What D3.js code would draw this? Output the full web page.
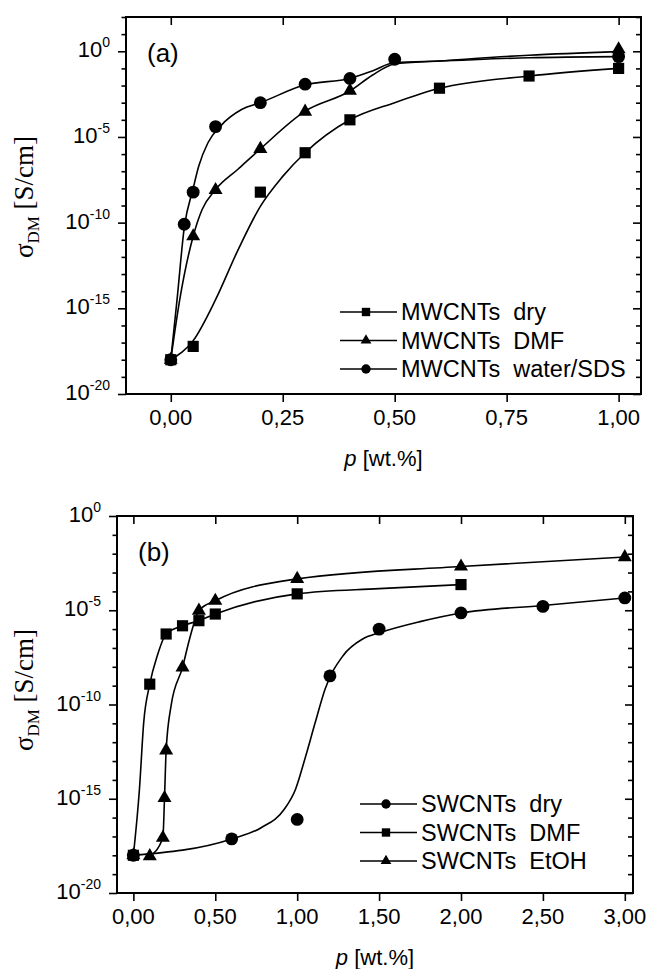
<!DOCTYPE html>
<html>
<head>
<meta charset="utf-8">
<script src="https://cdn.jsdelivr.net/npm/d3@7"></script>
<style>
  body { margin: 0; background: #fff; }
  svg { display: block; }
</style>
</head>
<body>
<div id="container"></div>
<script>
// ---- panel (a): MWCNTs, measured points ----
const mwDryP = [0, 0.05, 0.2, 0.3, 0.4, 0.6, 0.8, 1.0];
const mwDryS = [1e-18, 6e-18, 6e-9, 1.2e-6, 1e-4, 7e-3, 3.6e-2, 0.1];
const mwDmfP = [0, 0.05, 0.1, 0.2, 0.3, 0.4, 1.0];
const mwDmfS = [1e-18, 1.6e-11, 8e-9, 2e-6, 3e-4, 5e-3, 1.3];
const mwSdsP = [0, 0.03, 0.05, 0.1, 0.2, 0.3, 0.4, 0.5, 1.0];
const mwSdsS = [1e-18, 8e-11, 6e-9, 4e-5, 1e-3, 1.2e-2, 2.6e-2, 0.34, 0.49];

// fitted curves of panel (a)
const mwDryFitP = [0, 0.05, 0.1, 0.15, 0.2, 0.25, 0.3, 0.4, 0.5, 0.6, 0.8, 1.0];
const mwDryFitS = [1e-18, 1.3e-17, 3.2e-15, 2.5e-12, 8.9e-10, 5e-8, 1.2e-6, 1e-4, 1e-3, 6.9e-3, 3.6e-2, 0.1];
const mwDmfFitP = [0, 0.02, 0.05, 0.07, 0.1, 0.15, 0.2, 0.3, 0.4, 0.45, 0.5, 0.6, 0.8, 1.0];
const mwDmfFitS = [1e-18, 3.2e-15, 1.6e-11, 5.8e-10, 8.5e-9, 1.3e-7, 2e-6, 3.2e-4, 4.8e-3, 4e-2, 0.18, 0.27, 0.59, 0.95];
const mwSdsFitP = [0, 0.014, 0.03, 0.05, 0.0625, 0.083, 0.111, 0.159, 0.2, 0.3, 0.4, 0.45, 0.5, 0.6, 0.8, 1.0];
const mwSdsFitS = [1e-18, 3.2e-15, 5e-11, 1e-8, 2e-7, 4.6e-6, 4.3e-5, 4.1e-4, 1e-3, 1.1e-2, 2.6e-2, 7.1e-2, 0.22, 0.27, 0.42, 0.49];

// ---- panel (b): SWCNTs, measured points ----
const swDryP = [0, 0.6, 1.0, 1.2, 1.5, 2.0, 2.5, 3.0];
const swDryS = [1e-18, 7.4e-18, 8e-17, 3.3e-9, 1e-6, 7.2e-6, 1.6e-5, 4.5e-5];
const swDmfP = [0, 0.1, 0.2, 0.3, 0.4, 0.5, 1.0, 2.0];
const swDmfS = [1e-18, 1.2e-9, 5.5e-7, 1.5e-6, 2.8e-6, 6.3e-6, 7.4e-5, 2.3e-4];
const swEtohP = [0, 0.1, 0.18, 0.19, 0.2, 0.3, 0.4, 0.5, 1.0, 2.0, 3.0];
const swEtohS = [1e-18, 9e-19, 8.5e-18, 1.1e-15, 3.7e-13, 9.3e-9, 9.5e-6, 3.2e-5, 4.6e-4, 2.1e-3, 6.6e-3];

// fitted curves of panel (b)
const swDryFitP = [0, 0.6, 0.78, 0.92, 0.99, 1.05, 1.11, 1.17, 1.28, 1.4, 1.5, 1.75, 2.0, 2.5, 3.0];
const swDryFitS = [1e-18, 7.4e-18, 2.9e-17, 2.7e-16, 3.2e-15, 1.6e-13, 1.1e-11, 6.5e-10, 3.9e-8, 3e-7, 6.3e-7, 2.5e-6, 7.2e-6, 1.8e-5, 4.5e-5];
const swDmfFitP = [0, 0.037, 0.063, 0.1, 0.146, 0.2, 0.3, 0.4, 0.5, 1.0, 1.5, 2.0];
const swDmfFitS = [1e-18, 3.2e-15, 1.1e-11, 1.2e-9, 3.9e-8, 5.5e-7, 1.5e-6, 2.8e-6, 6.3e-6, 7.4e-5, 1.4e-4, 2.3e-4];
const swEtohFitP = [0.1, 0.18, 0.19, 0.2, 0.23, 0.3, 0.343, 0.4, 0.5, 1.0, 2.0, 3.0];
const swEtohFitS = [9e-19, 8.5e-18, 1.1e-15, 3.7e-13, 8.5e-11, 9.3e-9, 3e-7, 9.5e-6, 3.2e-5, 4.6e-4, 2.1e-3, 6.6e-3];

// axis ticks
const xTicksA = [0, 0.25, 0.5, 0.75, 1.0];
const xLabelsA = ["0,00", "0,25", "0,50", "0,75", "1,00"];
const xTicksB = [0, 0.5, 1.0, 1.5, 2.0, 2.5, 3.0];
const xLabelsB = ["0,00", "0,50", "1,00", "1,50", "2,00", "2,50", "3,00"];
const yExpA = [-20, -15, -10, -5, 0];
const yExpB = [-20, -15, -10, -5, 0];

const zip = (ps, ss) => ps.map((p, i) => ({ p, s: ss[i] }));

const panels = [
  {
    tag: "(a)", left: 126, right: 641, top: 17, bottom: 394,
    xDomain: [-0.1, 1.05], yDomain: [1e-20, 1e2], minExp: -20, maxExp: 2,
    xTicks: xTicksA, xLabels: xLabelsA, yExp: yExpA,
    legendX: 340, legendY: 312, titleY: 197,
    series: [
      { name: "MWCNTs  dry", sym: d3.symbolSquare, pts: zip(mwDryP, mwDryS), fit: zip(mwDryFitP, mwDryFitS) },
      { name: "MWCNTs  DMF", sym: d3.symbolTriangle, pts: zip(mwDmfP, mwDmfS), fit: zip(mwDmfFitP, mwDmfFitS) },
      { name: "MWCNTs  water/SDS", sym: d3.symbolCircle, pts: zip(mwSdsP, mwSdsS), fit: zip(mwSdsFitP, mwSdsFitS) }
    ]
  },
  {
    tag: "(b)", left: 117, right: 633, top: 516, bottom: 893,
    xDomain: [-0.1, 3.05], yDomain: [1e-20, 1], minExp: -20, maxExp: 0,
    xTicks: xTicksB, xLabels: xLabelsB, yExp: yExpB,
    legendX: 360, legendY: 804, titleY: 690,
    series: [
      { name: "SWCNTs  dry", sym: d3.symbolCircle, pts: zip(swDryP, swDryS), fit: zip(swDryFitP, swDryFitS) },
      { name: "SWCNTs  DMF", sym: d3.symbolSquare, pts: zip(swDmfP, swDmfS), fit: zip(swDmfFitP, swDmfFitS) },
      { name: "SWCNTs  EtOH", sym: d3.symbolTriangle, pts: zip(swEtohP, swEtohS), fit: zip(swEtohFitP, swEtohFitS) }
    ]
  }
];

const symSize = s => s === d3.symbolSquare ? 125 : s === d3.symbolCircle ? 130 : 85;

const svg = d3.select("#container")
  .append("svg")
  .attr("width", 652)
  .attr("height", 969)
  .style("font-family", "Arial, 'Liberation Sans', sans-serif");

panels.forEach(cfg => {
  const x = d3.scaleLinear().domain(cfg.xDomain).range([cfg.left, cfg.right]);
  const y = d3.scaleLog().domain(cfg.yDomain).range([cfg.bottom, cfg.top]);
  const g = svg.append("g");
  const decades = d3.range(cfg.minExp, cfg.maxExp + 1).map(e => Math.pow(10, e));
  const isMajor = d => cfg.yExp.includes(Math.round(Math.log10(d)));

  // axes: bottom/left ticks point out, top/right point in
  const styleAxis = sel => {
    sel.select(".domain").remove();
    sel.selectAll(".tick line").attr("stroke", "#000").attr("stroke-width", 1.6);
    sel.selectAll(".tick text").remove();
  };
  g.append("g").attr("transform", `translate(0,${cfg.bottom})`)
    .call(d3.axisBottom(x).tickValues(cfg.xTicks).tickSize(8)).call(styleAxis);
  g.append("g").attr("transform", `translate(0,${cfg.top})`)
    .call(d3.axisTop(x).tickValues(cfg.xTicks).tickSize(-8)).call(styleAxis);
  g.append("g").attr("transform", `translate(${cfg.left},0)`)
    .call(d3.axisLeft(y).tickValues(decades).tickSize(8)).call(styleAxis)
    .call(a => a.selectAll(".tick line").attr("x2", d => isMajor(d) ? -8 : -4.5));
  g.append("g").attr("transform", `translate(${cfg.right},0)`)
    .call(d3.axisRight(y).tickValues(decades).tickSize(-8)).call(styleAxis)
    .call(a => a.selectAll(".tick line").attr("x2", d => isMajor(d) ? -8 : -5));

  // frame
  g.append("rect")
    .attr("x", cfg.left).attr("y", cfg.top)
    .attr("width", cfg.right - cfg.left).attr("height", cfg.bottom - cfg.top)
    .attr("fill", "none").attr("stroke", "#000").attr("stroke-width", 2);

  // x tick labels
  g.selectAll("text.xl").data(cfg.xTicks).enter().append("text")
    .attr("class", "xl")
    .attr("x", d => x(d)).attr("y", cfg.bottom + 31)
    .attr("text-anchor", "middle").attr("font-size", 22)
    .text((d, i) => cfg.xLabels[i]);

  // y tick labels 10^n
  const yl = g.selectAll("text.yl").data(cfg.yExp).enter().append("text")
    .attr("class", "yl")
    .attr("x", cfg.left - 16).attr("y", d => y(Math.pow(10, d)) + 6)
    .attr("text-anchor", "end").attr("font-size", 22);
  yl.append("tspan").text("10");
  yl.append("tspan").attr("dy", -10).attr("font-size", 14).text(d => d === 0 ? "0" : "-" + Math.abs(d));

  // axis titles
  const xt = g.append("text")
    .attr("x", (cfg.left + cfg.right) / 2).attr("y", cfg.bottom + 72)
    .attr("text-anchor", "middle").attr("font-size", 22);
  xt.append("tspan").attr("font-style", "italic").text("p");
  xt.append("tspan").text(" [wt.%]");

  const yt = g.append("text")
    .attr("transform", `translate(33,${cfg.titleY}) rotate(-90)`)
    .attr("text-anchor", "middle")
    .attr("font-family", "'Liberation Serif', 'Times New Roman', serif")
    .attr("font-size", 27);
  yt.append("tspan").text("σ");
  yt.append("tspan").attr("dy", 6).attr("font-size", 17).text("DM");
  yt.append("tspan").attr("dy", -6).text(" [S/cm]");

  // panel tag
  g.append("text")
    .attr("x", cfg.left + 21).attr("y", cfg.top + 45)
    .attr("font-size", 26)
    .text(cfg.tag);

  // fitted lines and markers
  const line = d3.line()
    .x(d => x(d.p)).y(d => y(d.s))
    .curve(d3.curveMonotoneX);

  cfg.series.forEach(sr => {
    g.append("path")
      .datum(sr.fit)
      .attr("d", line)
      .attr("fill", "none").attr("stroke", "#000").attr("stroke-width", 1.6);
  });
  cfg.series.forEach(sr => {
    g.selectAll(null).data(sr.pts).enter().append("path")
      .attr("transform", d => `translate(${x(d.p)},${y(d.s)})`)
      .attr("d", d3.symbol().type(sr.sym).size(symSize(sr.sym)))
      .attr("fill", "#000");
  });

  // legend
  const legend = g.append("g").attr("transform", `translate(${cfg.legendX},${cfg.legendY})`);
  cfg.series.forEach((sr, i) => {
    const row = legend.append("g").attr("transform", `translate(0,${i * 28.5})`);
    row.append("line").attr("x1", 0).attr("x2", 57).attr("y1", 0).attr("y2", 0)
      .attr("stroke", "#000").attr("stroke-width", 1.6);
    row.append("path")
      .attr("transform", "translate(26,0)")
      .attr("d", d3.symbol().type(sr.sym).size(sr.sym === d3.symbolTriangle ? 50 : 70))
      .attr("fill", "#000");
    row.append("text")
      .attr("x", 61).attr("y", 8)
      .attr("font-size", 23.5)
      .style("white-space", "pre")
      .text(sr.name);
  });
});
</script>
</body>
</html>
